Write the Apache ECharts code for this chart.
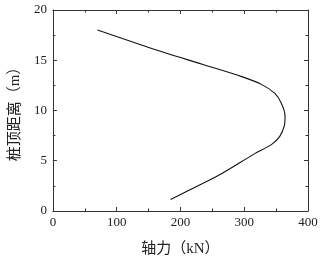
<!DOCTYPE html>
<html>
<head>
<meta charset="utf-8">
<script src="https://cdn.jsdelivr.net/npm/echarts@6/dist/echarts.min.js"></script>
<style>
  html, body { margin: 0; padding: 0; background: #fff; }
  #main { width: 321px; height: 262px; }
</style>
</head>
<body>
<div id="main"></div>
<script>
// 轴力 (kN) vs 桩顶距离 (m)
var force = [70, 149, 234, 296, 327, 348, 358, 364, 363, 355.5, 342.6, 316.7, 265, 234, 184.5];
var depth = [18.0, 16.3, 14.6, 13.37, 12.6, 11.7, 10.75, 9.47, 8.52, 7.4, 6.6, 5.71, 3.73, 2.71, 1.15];
var xTicks = [0, 100, 200, 300, 400];
var yTicks = [0, 5, 10, 15, 20];

var serif = '"Liberation Serif", "Times New Roman", serif';
var cjk = '"Liberation Serif", "Noto Sans CJK SC", serif';

var points = [];
for (var i = 0; i < force.length; i++) {
    points.push([force[i], depth[i]]);
}

var myChart = echarts.init(document.getElementById('main'));

var axisLine = { show: true, onZero: false, lineStyle: { color: '#333', width: 1 } };
var tickIn = { show: true, inside: true, length: 4, lineStyle: { color: '#333' } };
var minorIn = { show: true, splitNumber: 2, length: 2.5, lineStyle: { color: '#333' } };

var option = {
    animation: false,
    backgroundColor: '#fff',
    grid: {
        left: 49,
        right: 13,
        top: 10,
        bottom: 43
    },
    xAxis: [
        {
            type: 'value',
            min: xTicks[0],
            max: xTicks[xTicks.length - 1],
            interval: 100,
            position: 'bottom',
            axisLine: axisLine,
            axisTick: tickIn,
            minorTick: minorIn,
            splitLine: { show: false },
            axisLabel: { fontFamily: serif, fontSize: 13, color: '#222', margin: 5 },
            name: '轴力（kN）',
            nameLocation: 'middle',
            nameGap: 31,
            nameTextStyle: { fontFamily: cjk, fontSize: 15, color: '#222' }
        },
        {
            type: 'value',
            min: xTicks[0],
            max: xTicks[xTicks.length - 1],
            interval: 100,
            position: 'top',
            axisLine: axisLine,
            axisTick: tickIn,
            minorTick: minorIn,
            splitLine: { show: false },
            axisLabel: { show: false }
        }
    ],
    yAxis: [
        {
            type: 'value',
            min: yTicks[0],
            max: yTicks[yTicks.length - 1],
            interval: 5,
            position: 'left',
            axisLine: axisLine,
            axisTick: tickIn,
            minorTick: minorIn,
            splitLine: { show: false },
            axisLabel: { fontFamily: serif, fontSize: 13, color: '#222', margin: 6 },
            name: '桩顶距离（m）',
            nameLocation: 'middle',
            nameGap: 27,
            nameRotate: 90,
            nameTextStyle: { fontFamily: cjk, fontSize: 15, color: '#222' }
        },
        {
            type: 'value',
            min: yTicks[0],
            max: yTicks[yTicks.length - 1],
            interval: 5,
            position: 'right',
            axisLine: axisLine,
            axisTick: tickIn,
            minorTick: minorIn,
            splitLine: { show: false },
            axisLabel: { show: false }
        }
    ],
    series: [
        {
            type: 'line',
            data: points,
            smooth: 0.3,
            showSymbol: false,
            lineStyle: { color: '#111', width: 1.1 }
        }
    ]
};

myChart.setOption(option);
</script>
</body>
</html>
